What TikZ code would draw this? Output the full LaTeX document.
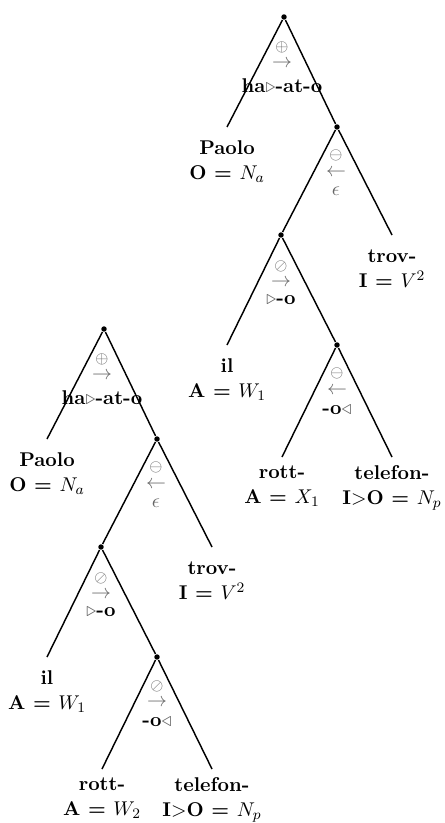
\documentclass[tikz,border=0pt,11pt]{standalone}
\usepackage{amsmath,amssymb}
\usepackage{xcolor}
\usepackage{tikz}
\usetikzlibrary{positioning}

\definecolor{opgray}{gray}{0.4}
\newcommand{\rtri}{\textcolor{opgray}{$\triangleright$}}
\newcommand{\ltri}{\textcolor{opgray}{$\triangleleft$}}

\begin{document}
\begin{tikzpicture}[
  x=0.55pt, y=-0.55pt,
  every path/.style={line width=0.8pt},
  knot/.style={circle, fill, inner sep=0pt, minimum size=3pt},
  leaf/.style={align=center, font=\bfseries, inner sep=0pt},
  op/.style={text=opgray, inner sep=0pt},
  opsym/.style={op, font=\footnotesize},
  morph/.style={font=\bfseries, inner sep=0pt},
]
\useasboundingbox (0,0) rectangle (444,823);

% upper tree
\begin{scope}[shift={(284,17)}]
\node[knot] (u1) at (0,0) {};
\node[knot] (u2) at (53,110) {};
\node[knot] (u3) at (-3,218) {};
\node[knot] (u4) at (53,328) {};
\coordinate (uPaolo) at (-57,110);
\coordinate (uTrov) at (108,218);
\coordinate (uIl) at (-57,328);
\coordinate (uRott) at (-2,440);
\coordinate (uTelefon) at (108,440);

\node[opsym] (u1op) at (-2,30) {$\oplus$};
\node[op] (u1dir) at (-2,47) {$\rightarrow$};
\node[morph] (u1m) at (-2,69) {ha\rtri-at-o};
\node[opsym] (u2op) at (52,138) {$\ominus$};
\node[op] (u2dir) at (52,156) {$\leftarrow$};
\node[op] (u2m) at (52,174) {$\epsilon$};
\node[opsym] (u3op) at (-3,249) {$\oslash$};
\node[op] (u3dir) at (-3,266) {$\rightarrow$};
\node[morph] (u3m) at (-3,283) {\rtri-o};
\node[opsym] (u4op) at (53,356) {$\ominus$};
\node[op] (u4dir) at (53,374) {$\leftarrow$};
\node[morph] (u4m) at (53,393) {-o\ltri};
\end{scope}

\node[leaf, below=7.3pt of uPaolo] (uPaoloL) {Paolo\\O = $N_a$};
\node[leaf, below=7.9pt of uTrov] (uTrovL) {trov-\\I = $V^2$};
\node[leaf, below=7.3pt of uIl] (uIlL) {il\\A = $W_1$};
\node[leaf, below=4.5pt of uRott] (uRottL) {rott-\\A = $X_1$};
\node[leaf, below=4.5pt of uTelefon] (uTelefonL) {telefon-\\I$>$O = $N_p$};

\draw (u1) to (uPaolo);
\draw (u1) to (u2);
\draw (u2) to (u3);
\draw (u2) to (uTrov);
\draw (u3) to (uIl);
\draw (u3) to (u4);
\draw (u4) to (uRott);
\draw (u4) to (uTelefon);

% lower tree
\begin{scope}[shift={(104,329)}]
\node[knot] (l1) at (0,0) {};
\node[knot] (l2) at (53,110) {};
\node[knot] (l3) at (-3,218) {};
\node[knot] (l4) at (53,328) {};
\coordinate (lPaolo) at (-57,110);
\coordinate (lTrov) at (108,218);
\coordinate (lIl) at (-57,328);
\coordinate (lRott) at (-2,440);
\coordinate (lTelefon) at (108,440);

\node[opsym] (l1op) at (-2,30) {$\oplus$};
\node[op] (l1dir) at (-2,47) {$\rightarrow$};
\node[morph] (l1m) at (-2,69) {ha\rtri-at-o};
\node[opsym] (l2op) at (52,138) {$\ominus$};
\node[op] (l2dir) at (52,156) {$\leftarrow$};
\node[op] (l2m) at (52,174) {$\epsilon$};
\node[opsym] (l3op) at (-3,249) {$\oslash$};
\node[op] (l3dir) at (-3,266) {$\rightarrow$};
\node[morph] (l3m) at (-3,283) {\rtri-o};
\node[opsym] (l4op) at (53,357) {$\oslash$};
\node[op] (l4dir) at (53,374) {$\rightarrow$};
\node[morph] (l4m) at (53,393) {-o\ltri};
\end{scope}

\node[leaf, below=7.3pt of lPaolo] (lPaoloL) {Paolo\\O = $N_a$};
\node[leaf, below=7.9pt of lTrov] (lTrovL) {trov-\\I = $V^2$};
\node[leaf, below=7.3pt of lIl] (lIlL) {il\\A = $W_1$};
\node[leaf, below=4.5pt of lRott] (lRottL) {rott-\\A = $W_2$};
\node[leaf, below=4.5pt of lTelefon] (lTelefonL) {telefon-\\I$>$O = $N_p$};

\draw (l1) to (lPaolo);
\draw (l1) to (l2);
\draw (l2) to (l3);
\draw (l2) to (lTrov);
\draw (l3) to (lIl);
\draw (l3) to (l4);
\draw (l4) to (lRott);
\draw (l4) to (lTelefon);
\end{tikzpicture}
\end{document}
